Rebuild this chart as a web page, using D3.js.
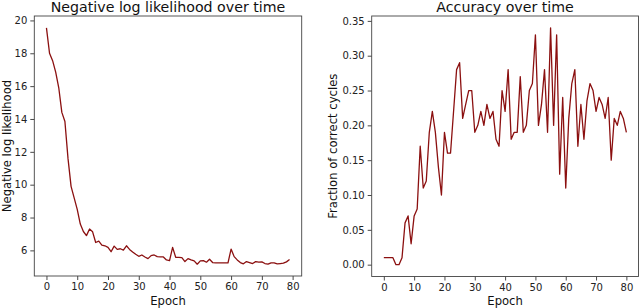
<!DOCTYPE html>
<html>
<head>
<meta charset="utf-8">
<script src="https://cdn.jsdelivr.net/npm/d3@7/dist/d3.min.js"></script>
<style>
  body { margin: 0; background: #fff; }
  svg { display: block; font-family: "DejaVu Sans", sans-serif; }
</style>
</head>
<body>
<svg width="640" height="308"></svg>
<script>
// epochs 0..79 for the loss, 0..80 for accuracy
const nllValues = [
  19.55, 18.0, 17.55, 16.85, 15.9, 14.4, 13.85, 11.6, 9.9, 9.2,
  8.5, 7.6, 7.15, 6.9, 7.3, 7.13, 6.48, 6.56, 6.32, 6.28,
  6.18, 5.92, 6.26, 6.06, 6.1, 6.02, 6.28, 6.06, 5.9, 5.76,
  5.64, 5.72, 5.6, 5.5, 5.68, 5.72, 5.62, 5.6, 5.6, 5.42,
  5.38, 6.18, 5.58, 5.58, 5.56, 5.32, 5.5, 5.42, 5.36, 5.16,
  5.36, 5.38, 5.28, 5.46, 5.26, 5.24, 5.24, 5.24, 5.24, 5.24,
  6.08, 5.62, 5.42, 5.26, 5.18, 5.32, 5.26, 5.2, 5.32, 5.28,
  5.3, 5.2, 5.16, 5.24, 5.24, 5.18, 5.2, 5.22, 5.3, 5.44
];
const accValues = [
  0.01, 0.01, 0.01, 0.01, 0.0, 0.0, 0.01, 0.06, 0.07, 0.03,
  0.07, 0.08, 0.17, 0.11, 0.12, 0.19, 0.22, 0.19, 0.14, 0.10,
  0.19, 0.16, 0.16, 0.22, 0.28, 0.29, 0.21, 0.23, 0.25, 0.25,
  0.19, 0.20, 0.22, 0.20, 0.23, 0.21, 0.22, 0.18, 0.17, 0.25,
  0.22, 0.28, 0.18, 0.19, 0.19, 0.27, 0.19, 0.20, 0.25, 0.26,
  0.33, 0.20, 0.23, 0.28, 0.19, 0.34, 0.20, 0.33, 0.13, 0.24,
  0.11, 0.21, 0.26, 0.28, 0.17, 0.23, 0.18, 0.235, 0.26, 0.25,
  0.22, 0.24, 0.23, 0.21, 0.24, 0.15, 0.21, 0.20, 0.22, 0.21,
  0.19
];
const xTicks = [0, 10, 20, 30, 40, 50, 60, 70, 80];
const nllTicks = [6, 8, 10, 12, 14, 16, 18, 20];
const accTicks = [0, 0.05, 0.10, 0.15, 0.20, 0.25, 0.30, 0.35];

const titles = ["Negative log likelihood over time", "Accuracy over time"];
const yLabels = ["Negative log likelihood", "Fraction of correct cycles"];
const xLabel = "Epoch";

const svg = d3.select("svg");
const lineColor = "#8b1010";

// matplotlib style autoscale: 5% padding on each side
function padded(ext) {
  const m = (ext[1] - ext[0]) * 0.05;
  return [ext[0] - m, ext[1] + m];
}

function drawPanel(box, values, yTicks, yFmt, title, yLabel, yLabelX) {
  const g = svg.append("g");
  const x = d3.scaleLinear()
    .domain(padded([0, values.length - 1]))
    .range([box.x0, box.x1]);
  const y = d3.scaleLinear()
    .domain(padded(d3.extent(values)))
    .range([box.y1, box.y0]);

  const line = d3.line()
    .x((d, i) => x(i))
    .y(d => y(d));

  g.append("path")
    .datum(values)
    .attr("d", line)
    .attr("fill", "none")
    .attr("stroke", lineColor)
    .attr("stroke-width", 1.3)
    .attr("stroke-linejoin", "round");

  const xAxis = g.append("g")
    .attr("transform", `translate(0,${box.y1})`)
    .call(d3.axisBottom(x).tickValues(xTicks).tickSize(4).tickPadding(3).tickFormat(d3.format("d")));
  const yAxis = g.append("g")
    .attr("transform", `translate(${box.x0},0)`)
    .call(d3.axisLeft(y).tickValues(yTicks).tickSize(4).tickPadding(3).tickFormat(yFmt));

  [xAxis, yAxis].forEach(a => {
    a.select(".domain").remove();
    a.selectAll("line").attr("stroke", "#333").attr("stroke-width", 0.9);
    a.selectAll("text").attr("fill", "#222").style("font-size", "10px").style("font-family", "DejaVu Sans");
  });

  // frame
  g.append("rect")
    .attr("x", box.x0).attr("y", box.y0)
    .attr("width", box.x1 - box.x0).attr("height", box.y1 - box.y0)
    .attr("fill", "none").attr("stroke", "#444").attr("stroke-width", 0.9);

  g.append("text")
    .attr("x", (box.x0 + box.x1) / 2).attr("y", 12)
    .attr("text-anchor", "middle")
    .style("font-size", "14.2px")
    .attr("fill", "#111")
    .text(title);

  g.append("text")
    .attr("x", (box.x0 + box.x1) / 2).attr("y", 304.5)
    .attr("text-anchor", "middle")
    .style("font-size", "11.6px")
    .attr("fill", "#111")
    .text(xLabel);

  g.append("text")
    .attr("transform", `translate(${yLabelX},${(box.y0 + box.y1) / 2}) rotate(-90)`)
    .attr("text-anchor", "middle")
    .style("font-size", "11.6px")
    .attr("fill", "#111")
    .text(yLabel);
}

drawPanel({ x0: 34.3, x1: 301.7, y0: 16, y1: 276 }, nllValues, nllTicks,
  d3.format("d"), titles[0], yLabels[0], 10.5);
drawPanel({ x0: 371.7, x1: 638.5, y0: 16, y1: 276.5 }, accValues, accTicks,
  d3.format(".2f"), titles[1], yLabels[1], 336.5);
</script>
</body>
</html>
